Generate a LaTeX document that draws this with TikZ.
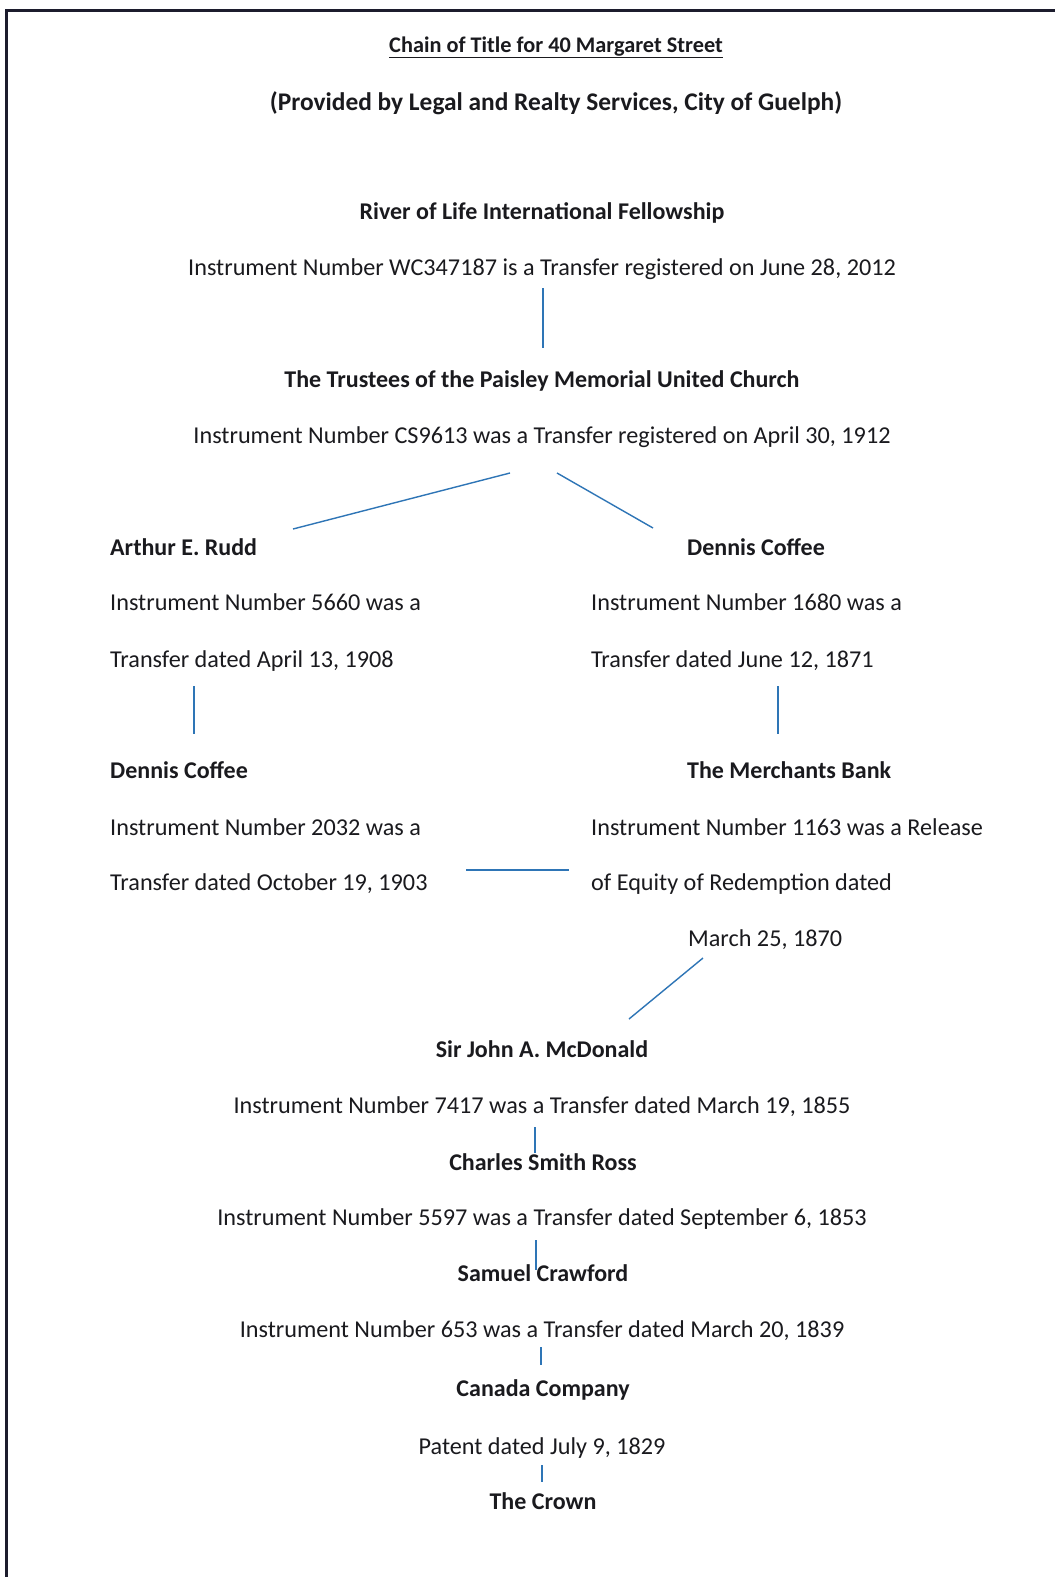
\documentclass[tikz,border=0pt]{standalone}
\usepackage{fontspec}
\setmainfont{Carlito}
\definecolor{ink}{RGB}{26,26,30}
\definecolor{frame}{RGB}{28,28,45}
\definecolor{link}{RGB}{46,117,182}
\begin{document}
\begin{tikzpicture}[x=1pt,y=-1pt,
  txt/.style={inner sep=0pt,text=ink,font=\fontsize{24.2}{28}\selectfont,anchor=mid,yshift=-7pt},
  bold/.style={txt,font=\fontsize{24}{28}\selectfont\bfseries},
  lft/.style={anchor=mid west},
  link/.style={draw=link,line width=1.4pt}]
\useasboundingbox (0,0) rectangle (1055,1577);
\fill[white] (0,0) rectangle (1055,1577);
% frame
\draw[frame,line width=3pt] (6,1577) -- (6,10) -- (1055,10);
% titles
\node[bold,font=\fontsize{22.3}{26}\selectfont\bfseries] (title) at (556,43) {\underline{Chain of Title for 40 Margaret Street}};
\node[bold,font=\fontsize{25.4}{29}\selectfont\bfseries] (sub) at (556,101) {(Provided by Legal and Realty Services, City of Guelph)};
% top chain
\node[bold] (river) at (542,210) {River of Life International Fellowship};
\node[txt] (riveri) at (542,266) {Instrument Number WC347187 is a Transfer registered on June 28, 2012};
\node[bold] (trust) at (542,378) {The Trustees of the Paisley Memorial United Church};
\node[txt] (trusti) at (542,434) {Instrument Number CS9613 was a Transfer registered on April 30, 1912};
% left column
\node[bold,lft] (rudd) at (110,546) {Arthur E. Rudd};
\node[txt,lft] (rudd1) at (110,601) {Instrument Number 5660 was a};
\node[txt,lft] (rudd2) at (110,658) {Transfer dated April 13, 1908};
\node[bold,lft] (dcl) at (110,769) {Dennis Coffee};
\node[txt,lft] (dcl1) at (110,826) {Instrument Number 2032 was a};
\node[txt,lft] (dcl2) at (110,881) {Transfer dated October 19, 1903};
% right column
\node[bold,lft] (dcr) at (687,546) {Dennis Coffee};
\node[txt,lft] (dcr1) at (591,601) {Instrument Number 1680 was a};
\node[txt,lft] (dcr2) at (591,658) {Transfer dated June 12, 1871};
\node[bold,lft] (mb) at (687,769) {The Merchants Bank};
\node[txt,lft] (mb1) at (591,826) {Instrument Number 1163 was a Release};
\node[txt,lft] (mb2) at (591,881) {of Equity of Redemption dated};
\node[txt,lft] (mb3) at (688,937) {March 25, 1870};
% lower chain
\node[bold] (jam) at (542,1048) {Sir John A. McDonald};
\node[txt] (jami) at (542,1104) {Instrument Number 7417 was a Transfer dated March 19, 1855};
\node[bold] (csr) at (543,1161) {Charles Smith Ross};
\node[txt] (csri) at (542,1216) {Instrument Number 5597 was a Transfer dated September 6, 1853};
\node[bold] (sc) at (543,1272) {Samuel Crawford};
\node[txt] (sci) at (542,1328) {Instrument Number 653 was a Transfer dated March 20, 1839};
\node[bold] (cc) at (543,1387) {Canada Company};
\node[txt] (cci) at (542,1445) {Patent dated July 9, 1829};
\node[bold] (crown) at (543,1500) {The Crown};
% connector end points
\coordinate (a1) at (543,288); \coordinate (a2) at (543,348);
\coordinate (b1) at (510,473); \coordinate (b2) at (293,529);
\coordinate (c1) at (557,473); \coordinate (c2) at (653,528);
\coordinate (d1) at (194,686); \coordinate (d2) at (194,734);
\coordinate (e1) at (778,686); \coordinate (e2) at (778,734);
\coordinate (f1) at (466,870); \coordinate (f2) at (569,870);
\coordinate (g1) at (703,958); \coordinate (g2) at (629,1019);
\coordinate (h1) at (535,1127); \coordinate (h2) at (535,1153);
\coordinate (i1) at (536,1240); \coordinate (i2) at (536,1270);
\coordinate (j1) at (541,1347); \coordinate (j2) at (541,1365);
\coordinate (k1) at (542,1465); \coordinate (k2) at (542,1482);
\foreach \p in {a,b,c,d,e,f,g,h,i,j,k} {\draw[link] (\p1) -- (\p2);}
\end{tikzpicture}
\end{document}
